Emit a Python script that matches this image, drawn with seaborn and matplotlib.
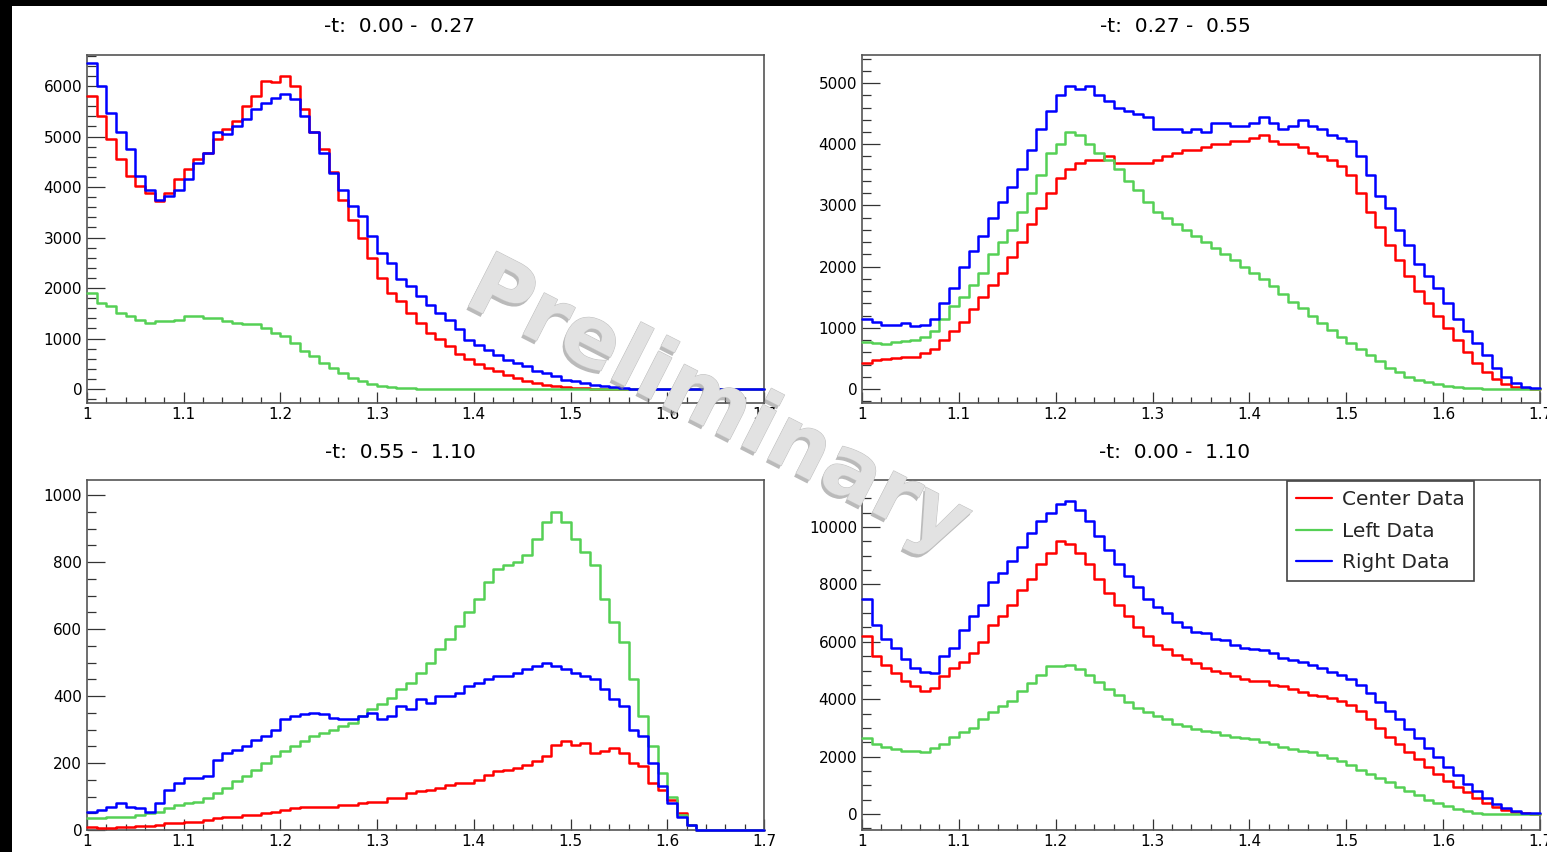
import numpy as np
import pandas as pd
import matplotlib
matplotlib.use("Agg")
import matplotlib.pyplot as plt
import matplotlib.patheffects as pe
from matplotlib.ticker import MultipleLocator, FuncFormatter
from matplotlib.lines import Line2D
from matplotlib.patches import Rectangle
import seaborn as sns

# ---------------- data (bin contents, bins of width 0.01 from 1.00 to 1.70) ----------------
bin_lo = 1.00
bin_hi = 1.70
n_bins = 70

titles = ["-t:  0.00 -  0.27", "-t:  0.27 -  0.55", "-t:  0.55 -  1.10", "-t:  0.00 -  1.10"]
series_names = ["Center Data", "Left Data", "Right Data"]

# panel 1: -t 0.00-0.27
p1_center = [5800, 5400, 4950, 4550, 4220, 4020, 3890, 3720, 3890, 4150,
             4350, 4550, 4680, 4950, 5140, 5300, 5600, 5800, 6100, 6070,
             6200, 6000, 5540, 5080, 4750, 4300, 3750, 3350, 3000, 2600,
             2200, 1900, 1750, 1500, 1300, 1100, 1000, 850, 700, 600,
             500, 420, 350, 280, 220, 160, 120, 85, 60, 40,
             25, 15, 0, 0, 0, 0, 0, 0, 0, 0,
             0, 0, 0, 0, 0, 0, 0, 0, 0, 0]
p1_left = [1900, 1700, 1640, 1500, 1440, 1370, 1310, 1340, 1340, 1370,
           1440, 1440, 1410, 1410, 1340, 1310, 1280, 1280, 1210, 1110,
           1040, 910, 750, 650, 515, 420, 320, 220, 150, 100,
           65, 40, 25, 15, 8, 4, 0, 0, 0, 0,
           0, 0, 0, 0, 0, 0, 0, 0, 0, 0,
           0, 0, 0, 0, 0, 0, 0, 0, 0, 0,
           0, 0, 0, 0, 0, 0, 0, 0, 0, 0]
p1_right = [6460, 6000, 5470, 5080, 4750, 4220, 3950, 3750, 3820, 3950,
            4150, 4480, 4680, 5080, 5040, 5200, 5340, 5540, 5670, 5770,
            5840, 5740, 5400, 5080, 4680, 4280, 3950, 3620, 3420, 3030,
            2700, 2500, 2170, 2035, 1840, 1670, 1500, 1375, 1180, 980,
            880, 780, 680, 580, 515, 450, 350, 320, 250, 185,
            150, 120, 85, 65, 40, 20, 10, 0, 0, 0,
            0, 0, 0, 0, 0, 0, 0, 0, 0, 0]

# panel 2: -t 0.27-0.55
p2_center = [430, 470, 490, 500, 520, 530, 580, 650, 800, 950,
             1100, 1300, 1500, 1700, 1900, 2150, 2400, 2700, 2950, 3200,
             3450, 3600, 3700, 3750, 3750, 3800, 3700, 3700, 3700, 3700,
             3750, 3800, 3850, 3900, 3900, 3950, 4000, 4000, 4050, 4050,
             4100, 4150, 4050, 4000, 4000, 3950, 3850, 3800, 3750, 3650,
             3500, 3200, 2900, 2650, 2350, 2100, 1850, 1600, 1400, 1200,
             1000, 800, 600, 420, 280, 160, 80, 30, 10, 0]
p2_left = [770, 750, 740, 760, 790, 800, 850, 950, 1150, 1350,
           1500, 1700, 1900, 2200, 2400, 2600, 2900, 3200, 3500, 3850,
           4000, 4200, 4150, 4000, 3850, 3750, 3600, 3400, 3250, 3050,
           2900, 2800, 2700, 2600, 2500, 2400, 2300, 2200, 2100, 2000,
           1900, 1800, 1680, 1550, 1420, 1320, 1200, 1080, 970, 850,
           750, 650, 550, 450, 350, 270, 200, 150, 110, 75,
           50, 30, 15, 8, 3, 0, 0, 0, 0, 0]
p2_right = [1150, 1100, 1050, 1050, 1080, 1030, 1050, 1150, 1400, 1650,
            2000, 2250, 2500, 2800, 3050, 3300, 3600, 3900, 4250, 4550,
            4800, 4950, 4900, 4950, 4800, 4700, 4600, 4550, 4500, 4450,
            4250, 4250, 4250, 4200, 4250, 4200, 4350, 4350, 4300, 4300,
            4350, 4450, 4350, 4250, 4300, 4400, 4300, 4250, 4150, 4100,
            4050, 3800, 3500, 3150, 2950, 2600, 2350, 2050, 1850, 1650,
            1400, 1150, 950, 750, 550, 350, 200, 100, 40, 10]

# panel 3: -t 0.55-1.10
p3_center = [8, 5, 5, 8, 10, 12, 12, 15, 20, 20,
             25, 25, 30, 35, 40, 40, 45, 45, 50, 55,
             60, 65, 70, 70, 70, 70, 75, 75, 80, 85,
             85, 95, 95, 110, 115, 120, 125, 135, 140, 140,
             150, 165, 175, 180, 185, 195, 205, 220, 255, 265,
             255, 260, 230, 235, 245, 230, 200, 190, 140, 120,
             90, 50, 15, 0, 0, 0, 0, 0, 0, 0]
p3_left = [35, 35, 40, 40, 40, 45, 50, 55, 65, 75,
           80, 85, 95, 110, 125, 145, 160, 180, 200, 220,
           235, 250, 265, 280, 290, 300, 310, 320, 340, 360,
           375, 395, 420, 440, 470, 500, 540, 570, 610, 650,
           690, 740, 780, 790, 800, 820, 870, 920, 950, 920,
           870, 830, 790, 690, 620, 560, 450, 340, 250, 170,
           100, 45, 15, 0, 0, 0, 0, 0, 0, 0]
p3_right = [55, 60, 70, 80, 70, 65, 55, 80, 120, 140,
            155, 155, 160, 210, 230, 240, 250, 270, 280, 300,
            330, 340, 345, 350, 345, 335, 330, 330, 340, 350,
            330, 340, 370, 360, 390, 380, 400, 400, 410, 430,
            440, 450, 460, 460, 470, 480, 490, 500, 490, 480,
            470, 460, 450, 420, 390, 370, 300, 280, 200, 130,
            80, 40, 15, 0, 0, 0, 0, 0, 0, 0]

# panel 4: -t 0.00-1.10
p4_center = [6200, 5500, 5200, 4900, 4650, 4450, 4300, 4400, 4800, 5100,
             5300, 5600, 6000, 6600, 6900, 7300, 7800, 8200, 8700, 9100,
             9500, 9400, 9100, 8700, 8200, 7700, 7300, 6900, 6500, 6200,
             5900, 5750, 5550, 5400, 5250, 5100, 5000, 4900, 4800, 4700,
             4650, 4650, 4500, 4450, 4350, 4250, 4150, 4100, 4050, 3950,
             3800, 3600, 3300, 3000, 2700, 2450, 2150, 1900, 1650, 1400,
             1150, 950, 750, 550, 400, 250, 130, 60, 20, 5]
p4_left = [2650, 2450, 2350, 2250, 2200, 2200, 2150, 2300, 2450, 2700,
           2850, 3000, 3300, 3550, 3750, 3950, 4300, 4550, 4850, 5150,
           5150, 5200, 5050, 4850, 4600, 4350, 4150, 3900, 3700, 3550,
           3400, 3300, 3150, 3050, 2950, 2900, 2850, 2750, 2700, 2650,
           2600, 2500, 2450, 2350, 2250, 2200, 2150, 2050, 1950, 1850,
           1700, 1550, 1400, 1250, 1100, 950, 800, 650, 500, 380,
           270, 170, 90, 30, 0, 0, 0, 0, 0, 0]
p4_right = [7500, 6600, 6100, 5800, 5400, 5100, 4950, 4900, 5500, 5800,
            6400, 6900, 7300, 8100, 8400, 8800, 9300, 9800, 10200, 10500,
            10800, 10900, 10600, 10200, 9700, 9200, 8700, 8300, 7900, 7500,
            7200, 7000, 6700, 6500, 6350, 6300, 6100, 6050, 5900, 5800,
            5750, 5700, 5600, 5450, 5350, 5300, 5200, 5100, 4950, 4850,
            4700, 4500, 4200, 3900, 3600, 3300, 2950, 2650, 2300, 2000,
            1650, 1350, 1050, 800, 550, 350, 200, 100, 50, 20]

panels = [
    (p1_center, p1_left, p1_right),
    (p2_center, p2_left, p2_right),
    (p3_center, p3_left, p3_right),
    (p4_center, p4_left, p4_right),
]

# ---------------- styling ----------------
colors = {"Center Data": "#ff0000", "Left Data": "#55d055", "Right Data": "#0000ff"}
ylims = [(-277, 6614), (-229, 5458), (0, 1045), (-557, 11638)]
y_major = [1000, 1000, 200, 2000]
y_minor = [200, 200, 50, 500]

sns.set_style("ticks")
plt.rcParams["font.family"] = ["DejaVu Sans"]

W, H = 1547, 852
fig = plt.figure(figsize=(W / 100, H / 100), dpi=100)
fig.patch.set_facecolor("white")

def frac_box(x0, y0, x1, y1):
    return [x0 / W, 1 - y1 / H, (x1 - x0) / W, (y1 - y0) / H]

boxes = [frac_box(87, 55, 764, 403), frac_box(862, 55, 1540, 403),
         frac_box(87, 480, 764, 830), frac_box(862, 480, 1540, 830)]
title_pos = [(399, 27), (1175, 27), (400, 452), (1175, 452)]

edges = [round(float(e), 4) for e in np.linspace(bin_lo, bin_hi, n_bins + 1)]
centers = [(a + b) / 2 for a, b in zip(edges[:-1], edges[1:])]

axes = []
for i, (box, vals) in enumerate(zip(boxes, panels)):
    ax = fig.add_axes(box)
    axes.append(ax)
    frames = []
    for name, v in zip(series_names, vals):
        frames.append(pd.DataFrame({"x": centers, "w": v, "series": name}))
    df = pd.concat(frames, ignore_index=True)
    for name in series_names:
        sub = df[df["series"] == name]
        sns.histplot(data=sub, x="x", weights="w", bins=edges, element="step",
                     fill=False, color=colors[name], linewidth=1.8, ax=ax,
                     zorder=3, clip_on=False)
    ax.set_xlim(bin_lo, bin_hi)
    ax.set_ylim(*ylims[i])
    ax.set_xlabel("")
    ax.set_ylabel("")
    ax.xaxis.set_major_locator(MultipleLocator(0.1))
    ax.xaxis.set_minor_locator(MultipleLocator(0.02))
    ax.yaxis.set_major_locator(MultipleLocator(y_major[i]))
    ax.yaxis.set_minor_locator(MultipleLocator(y_minor[i]))
    ax.xaxis.set_major_formatter(FuncFormatter(lambda v, p: f"{v:g}"))
    ax.yaxis.set_major_formatter(FuncFormatter(lambda v, p: f"{v:g}"))
    ax.tick_params(axis="both", which="both", direction="in", colors="#333333",
                   labelcolor="black", labelsize=11, top=False, right=False)
    ax.tick_params(axis="y", which="major", length=13, width=0.9, pad=3.5)
    ax.tick_params(axis="y", which="minor", length=6.5, width=0.9)
    ax.tick_params(axis="x", which="major", length=8, width=0.9, pad=3)
    ax.tick_params(axis="x", which="minor", length=4, width=0.9)
    for s in ax.spines.values():
        s.set_visible(True)
        s.set_color("#555555")
        s.set_linewidth(1.2)
    ax.set_facecolor("white")
    tx, ty = title_pos[i]
    fig.text(tx / W, 1 - ty / H, titles[i], ha="center", va="center", fontsize=14.5,
             color="black")

# legend in last panel
handles = [Line2D([0], [0], color=colors[n], lw=1.6) for n in series_names]
leg = axes[3].legend(handles, series_names, loc="upper left",
                     bbox_to_anchor=(1287 / W, 1 - 481 / H), bbox_transform=fig.transFigure,
                     fontsize=14.5, frameon=True, fancybox=False, framealpha=1,
                     edgecolor="#444444", handlelength=1.8, handletextpad=0.5,
                     labelspacing=0.62, borderpad=0.45, borderaxespad=0)
leg.get_frame().set_linewidth(1.2)
leg.set_zorder(5)

# black frame strips (top and left)
fig.patches.append(Rectangle((0, 1 - 6 / H), 1, 6 / H, transform=fig.transFigure,
                             facecolor="black", edgecolor="none", zorder=10))
fig.patches.append(Rectangle((0, 0), 12 / W, 1, transform=fig.transFigure,
                             facecolor="black", edgecolor="none", zorder=10))

# watermark
fig.text(718 / W, 1 - 407 / H, "Preliminary", rotation=-27, ha="center", va="center",
         fontsize=61, fontweight="bold", color="#e2e2e2", zorder=20,
         rotation_mode="anchor",
         path_effects=[pe.withSimplePatchShadow(offset=(-1.5, -2.5), shadow_rgbFace="#8c8c8c", alpha=0.6),
                       pe.withStroke(linewidth=0.8, foreground="#c4c4c4")])

fig.savefig("out.png", dpi=100, facecolor="white")
